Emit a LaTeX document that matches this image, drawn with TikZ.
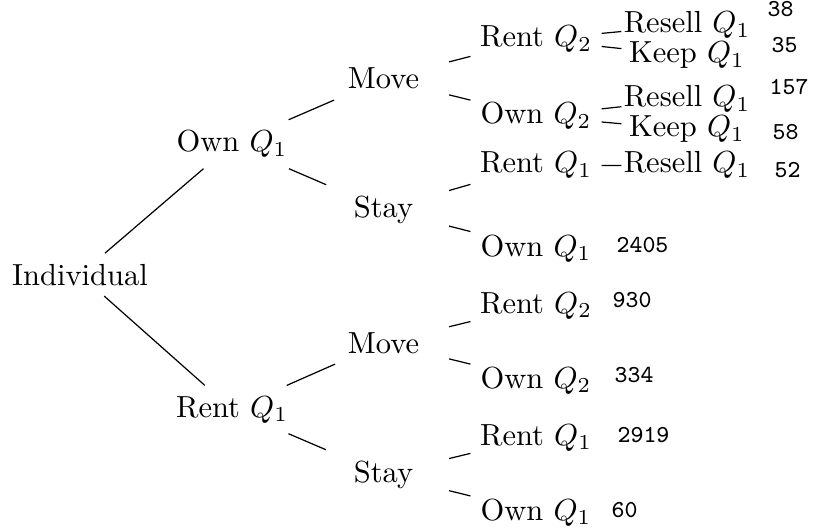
\documentclass[tikz,border=0pt]{standalone}
\usepackage{fontspec}
\newcommand\numfnt{\ttfamily\fontsize{8}{9}\selectfont\addfontfeature{LetterSpace=13}}
\begin{document}
\begin{tikzpicture}[x=0.3279pt, y=-0.3279pt,
  tn/.style={anchor=base, inner xsep=0pt, inner ysep=3.33pt, minimum width=42.6pt},
  num/.style={anchor=base west, inner sep=0pt, font=\numfnt}]
\useasboundingbox (0,0) rectangle (813,531);

% root and first decision
\node[tn] (ind) at (80,285) {Individual};
\node[tn] (o1) at (232,152) {Own $Q_1$};
\node[tn] (r1) at (232,417) {Rent $Q_1$};

% move or stay
\node[tn] (om) at (383.5,89) {Move};
\node[tn] (os) at (383.5,217) {Stay};
\node[tn] (rm) at (383.5,353) {Move};
\node[tn] (rs) at (383.5,482) {Stay};

% tenure in the second period
\node[tn] (omr) at (536,47) {Rent $Q_2$};
\node[tn] (omo) at (536,124) {Own $Q_2$};
\node[tn] (osr) at (536,173) {Rent $Q_1$};
\node[tn] (oso) at (536,256) {Own $Q_1$};
\node[tn] (rmr) at (536,313) {Rent $Q_2$};
\node[tn] (rmo) at (536,388) {Own $Q_2$};
\node[tn] (rsr) at (536,445) {Rent $Q_1$};
\node[tn] (rso) at (536,520) {Own $Q_1$};

% what happens to the first dwelling
\node[tn] (omrr) at (687,33) {Resell $Q_1$};
\node[tn] (omrk) at (687,63) {Keep $Q_1$};
\node[tn] (omor) at (687,107) {Resell $Q_1$};
\node[tn] (omok) at (687,137) {Keep $Q_1$};
\node[tn] (osrr) at (687,173) {Resell $Q_1$};

% counts
\node[num] (c1) at (767,17) {38};
\node[num] (c2) at (771,53) {35};
\node[num] (c3) at (769,95) {157};
\node[num] (c4) at (772,140) {58};
\node[num] (c5) at (774,177) {52};
\node[num] (c6) at (616,252) {2405};
\node[num] (c7) at (612,307) {930};
\node[num] (c8) at (614,382) {334};
\node[num] (c9) at (617,442) {2919};
\node[num] (c10) at (611,517) {60};

% branches
\draw (ind) -- (o1);
\draw (ind) -- (r1);
\draw (o1) -- (om);
\draw (o1) -- (os);
\draw (r1) -- (rm);
\draw (r1) -- (rs);
\draw (om) -- (omr);
\draw (om) -- (omo);
\draw (os) -- (osr);
\draw (os) -- (oso);
\draw (rm) -- (rmr);
\draw (rm) -- (rmo);
\draw (rs) -- (rsr);
\draw (rs) -- (rso);
\draw (omr) -- (omrr);
\draw (omr) -- (omrk);
\draw (omo) -- (omor);
\draw (omo) -- (omok);
\draw (osr) -- (osrr);
\end{tikzpicture}
\end{document}
